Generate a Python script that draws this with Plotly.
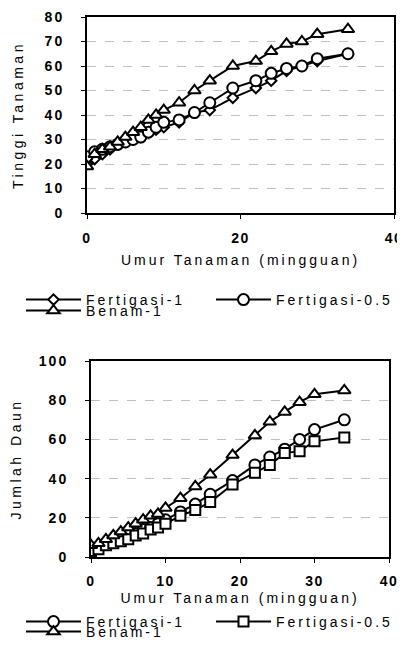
import plotly.graph_objects as go

weeks = [0, 1, 2, 3, 4, 5, 6, 7, 8, 9, 10, 12, 14, 16, 19, 22, 24, 26, 28, 30, 34]

tinggi_fertigasi_1 = [20, 22, 24, 26, 28, 29, 30, 31, 33, 34, 35, 37, 41, 42, 47, 51, 54, 58, 60, 62, 65]
tinggi_fertigasi_05 = [23, 25, 26, 27, 28, 29, 30, 31, 33, 35, 37, 38, 41, 45, 51, 54, 57, 59, 60, 63, 65]
tinggi_benam_1 = [19, 24, 26, 27, 29, 31, 33, 35, 38, 40, 42, 45, 50, 54, 60, 62, 66, 69, 70, 73, 75]

daun_fertigasi_1 = [4, 5, 7, 8, 9, 11, 12, 14, 15, 17, 19, 23, 27, 32, 39, 47, 51, 55, 60, 65, 70]
daun_fertigasi_05 = [3, 4, 6, 7, 8, 9, 11, 12, 14, 15, 17, 21, 24, 28, 37, 43, 47, 53, 54, 59, 61]
daun_benam_1 = [6, 7, 9, 11, 13, 15, 17, 19, 21, 22, 25, 30, 36, 42, 52, 62, 69, 74, 79, 83, 85]

top_xticks = [0, 20, 40]
top_yticks = [0, 10, 20, 30, 40, 50, 60, 70, 80]
bot_xticks = [0, 10, 20, 30, 40]
bot_yticks = [0, 20, 40, 60, 80, 100]

FONT = "Liberation Sans, Arial, sans-serif"
# the page body keeps its default 8px margin, so the figure is sized to fit the 405x669 window
OFF = 8
W, H = 405 - OFF, 669 - 2 * OFF - 12


def xp(px):
    return (px - OFF) / W


def yp(py):
    return 1 - (py - OFF) / H


def sp(t, ls):
    return f'<span style="letter-spacing:{ls}px">{t}</span>'


fig = go.Figure()

line = dict(color="black", width=2)


def mk(symbol, size):
    return dict(symbol=symbol, size=size, color="white", line=dict(color="black", width=2))


# top chart
fig.add_trace(go.Scatter(x=weeks, y=tinggi_fertigasi_1, name=sp("Fertigasi-1", 3), mode="lines+markers",
                         line=line, marker=mk("diamond", 8), xaxis="x", yaxis="y", legend="legend"))
fig.add_trace(go.Scatter(x=weeks, y=tinggi_fertigasi_05, name=sp("Fertigasi-0.5", 3), mode="lines+markers",
                         line=line, marker=mk("circle", 11), xaxis="x", yaxis="y", legend="legend"))
fig.add_trace(go.Scatter(x=weeks, y=tinggi_benam_1, name=sp("Benam-1", 3), mode="lines+markers",
                         line=line, marker=mk("triangle-up", 11), xaxis="x", yaxis="y", legend="legend2"))

# bottom chart
fig.add_trace(go.Scatter(x=weeks, y=daun_fertigasi_1, name=sp("Fertigasi-1", 3), mode="lines+markers",
                         line=line, marker=mk("circle", 11), xaxis="x2", yaxis="y2", legend="legend3"))
fig.add_trace(go.Scatter(x=weeks, y=daun_fertigasi_05, name=sp("Fertigasi-0.5", 3), mode="lines+markers",
                         line=line, marker=mk("square", 10), xaxis="x2", yaxis="y2", legend="legend3"))
fig.add_trace(go.Scatter(x=weeks, y=daun_benam_1, name=sp("Benam-1", 3), mode="lines+markers",
                         line=line, marker=mk("triangle-up", 11), xaxis="x2", yaxis="y2", legend="legend4"))

tickfont = dict(family=FONT, size=14, color="black", weight="bold")
titlefont = dict(family=FONT, size=14, color="black")

common_axis = dict(showline=True, linecolor="black", linewidth=2, mirror=True, ticks="outside",
                   ticklen=4, tickcolor="black", tickfont=tickfont, zeroline=False, automargin=False,
                   ticklabeloverflow="allow")

x_common = dict(common_axis, showgrid=False)
y_common = dict(common_axis, showgrid=True, gridcolor="#c0c0c0", griddash="dash", gridwidth=1)

legfont = dict(family=FONT, size=14, color="black")
leg_common = dict(xanchor="left", yanchor="top", orientation="h", itemwidth=55, font=legfont,
                  bgcolor="rgba(0,0,0,0)", borderwidth=0)

fig.update_layout(
    width=W, height=H, autosize=False,
    margin=dict(l=0, r=0, t=0, b=0, autoexpand=False),
    paper_bgcolor="white", plot_bgcolor="white",
    font=dict(family=FONT, size=14, color="black"),
    xaxis=dict(x_common, domain=[xp(87), xp(394)], range=[0, 40], anchor="y",
               tickvals=top_xticks, ticktext=[sp(t, 1.5) for t in top_xticks], ticklabelstandoff=7,
               title=dict(text=sp("Umur Tanaman (mingguan)", 3), font=titlefont, standoff=10)),
    yaxis=dict(y_common, domain=[yp(213), yp(17)], range=[0, 80], anchor="x",
               tickvals=top_yticks, ticktext=[sp(t, 2) for t in top_yticks], ticklabelstandoff=14,
               title=dict(text=sp("Tinggi Tanaman", 3.5), font=titlefont, standoff=18)),
    xaxis2=dict(x_common, domain=[xp(91), xp(389)], range=[0, 40], anchor="y2",
                tickvals=bot_xticks, ticktext=[sp(t, 1.5) for t in bot_xticks], ticklabelstandoff=6,
                title=dict(text=sp("Umur Tanaman (mingguan)", 3), font=titlefont, standoff=5)),
    yaxis2=dict(y_common, domain=[yp(557), yp(361)], range=[0, 100], anchor="x2",
                tickvals=bot_yticks, ticktext=[sp(t, 2) for t in bot_yticks], ticklabelstandoff=14,
                title=dict(text=sp("Jumlah Daun", 3.5), font=titlefont, standoff=18)),
    legend=dict(leg_common, x=xp(21), y=yp(284), entrywidth=120),
    legend2=dict(leg_common, x=xp(21), y=yp(295)),
    legend3=dict(leg_common, x=xp(21), y=yp(606), entrywidth=120),
    legend4=dict(leg_common, x=xp(21), y=yp(616)),
)

fig.write_html("out.html")
